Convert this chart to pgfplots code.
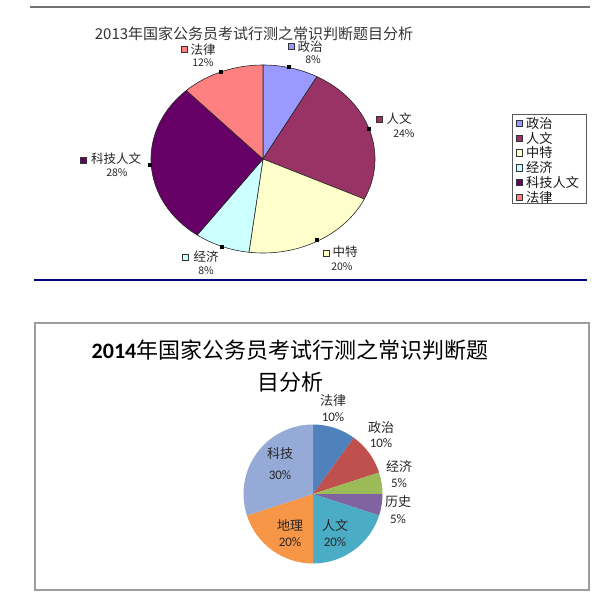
\documentclass[border=0pt]{standalone}
\usepackage{pgfplots}
\pgfplotsset{compat=1.18}
\usepackage{pgfplotstable}
\usepackage{fontspec}
\setmainfont{Noto Sans CJK SC}
\newfontfamily\calib{Carlito}

\definecolor{a1}{HTML}{9999FF}
\definecolor{a2}{HTML}{993366}
\definecolor{a3}{HTML}{FFFFCC}
\definecolor{a4}{HTML}{CCFFFF}
\definecolor{a5}{HTML}{660066}
\definecolor{a6}{HTML}{FF8080}
\definecolor{b1}{HTML}{4F81BD}
\definecolor{b2}{HTML}{C0504D}
\definecolor{b3}{HTML}{9BBB59}
\definecolor{b4}{HTML}{8064A2}
\definecolor{b5}{HTML}{4BACC6}
\definecolor{b6}{HTML}{F79646}
\definecolor{b7}{HTML}{95AAD6}
\definecolor{navyline}{HTML}{000080}

% 2013 shares (clockwise from 12 o'clock)
\pgfplotstableread{
cat value
政治 8
人文 24
中特 20
经济 8
科技人文 28
法律 12
}\pieA

% 2014 shares (clockwise from 12 o'clock)
\pgfplotstableread{
cat value
法律 10
政治 10
经济 5
历史 5
人文 20
地理 20
科技 30
}\pieB

\gdef\cum{0}
\newcommand\pieslice[7]{%
  \pgfplotstablegetelem{#2}{value}\of{#1}%
  \let\pv\pgfplotsretval
  \pgfmathsetmacro\sa{90-3.6*\cum}%
  \pgfmathsetmacro\ea{90-3.6*(\cum+\pv)}%
  \pgfmathsetmacro\nc{\cum+\pv}\xdef\cum{\nc}%
  \edef\tmp{\noexpand\path[#7] (axis cs:#3,#4) -- ([shift={(\sa:#5pt and #6pt)}]axis cs:#3,#4) arc[start angle=\sa, end angle=\ea, x radius=#5pt, y radius=#6pt] -- cycle;}%
  \tmp}

\begin{document}
\begin{tikzpicture}
\begin{axis}[
  width=600pt, height=596pt, scale only axis,
  xmin=0, xmax=600, ymin=0, ymax=596, y dir=reverse,
  hide axis, clip=false,
]
\path (axis cs:0,0) rectangle (axis cs:600,596);

% frame lines
\draw[black!55, line width=1.5pt] (axis cs:30,7) -- (axis cs:590,7);
\draw[navyline, line width=1.2pt] (axis cs:34,280) -- (axis cs:587,280);
\draw[black!38, line width=1.2pt] (axis cs:35,323) rectangle (axis cs:589,590);

% ---------- 2013 pie ----------
\node[text=black!80, inner sep=0pt, font=\fontsize{15}{18}\selectfont] at (axis cs:254,34) {2013年国家公务员考试行测之常识判断题目分析};
\gdef\cum{0}
\pieslice{\pieA}{0}{263}{159}{112}{94}{fill=a1,draw=black!85,line width=0.6pt}
\pieslice{\pieA}{1}{263}{159}{112}{94}{fill=a2,draw=black!85,line width=0.6pt}
\pieslice{\pieA}{2}{263}{159}{112}{94}{fill=a3,draw=black!85,line width=0.6pt}
\pieslice{\pieA}{3}{263}{159}{112}{94}{fill=a4,draw=black!85,line width=0.6pt}
\pieslice{\pieA}{4}{263}{159}{112}{94}{fill=a5,draw=black!85,line width=0.6pt}
\pieslice{\pieA}{5}{263}{159}{112}{94}{fill=a6,draw=black!85,line width=0.6pt}

% leader stubs
\addplot[only marks, mark=square*, mark size=1.6pt, black] coordinates {(289,67) (369,129) (317,240) (222,247) (150,165) (221,72)};

% label keys
\addplot[only marks, mark=square*, mark size=3pt, mark options={fill=a1,draw=black!80}] coordinates {(291,46)};
\addplot[only marks, mark=square*, mark size=3pt, mark options={fill=a2,draw=black!80}] coordinates {(379,119)};
\addplot[only marks, mark=square*, mark size=3pt, mark options={fill=a3,draw=black!80}] coordinates {(326,253)};
\addplot[only marks, mark=square*, mark size=3pt, mark options={fill=a4,draw=black!80}] coordinates {(185,257)};
\addplot[only marks, mark=square*, mark size=3pt, mark options={fill=a5,draw=black!80}] coordinates {(83,160)};
\addplot[only marks, mark=square*, mark size=3pt, mark options={fill=a6,draw=black!80}] coordinates {(184,49)};

\begin{scope}[every node/.style={text=black!85, inner sep=0pt}]
\node[font=\fontsize{12.5}{14}\selectfont] at (axis cs:310,47) {政治};
\node[font=\fontsize{10.5}{12}\selectfont] at (axis cs:313,60) {8\%};
\node[font=\fontsize{12.5}{14}\selectfont] at (axis cs:399,119) {人文};
\node[font=\fontsize{10.5}{12}\selectfont] at (axis cs:404,134) {24\%};
\node[font=\fontsize{12.5}{14}\selectfont] at (axis cs:345,252) {中特};
\node[font=\fontsize{10.5}{12}\selectfont] at (axis cs:342,267) {20\%};
\node[font=\fontsize{12.5}{14}\selectfont] at (axis cs:206,257) {经济};
\node[font=\fontsize{10.5}{12}\selectfont] at (axis cs:206,271) {8\%};
\node[font=\fontsize{12.5}{14}\selectfont] at (axis cs:116,159) {科技人文};
\node[font=\fontsize{10.5}{12}\selectfont] at (axis cs:117,173) {28\%};
\node[font=\fontsize{12.5}{14}\selectfont] at (axis cs:203,50) {法律};
\node[font=\fontsize{10.5}{12}\selectfont] at (axis cs:203,63) {12\%};
\end{scope}

% legend (manual)
\draw[black!65, line width=0.8pt, fill=white] (axis cs:512,114) rectangle (axis cs:586,203);
\addplot[only marks, mark=square*, mark size=3.2pt, mark options={fill=a1,draw=black!80}] coordinates {(519,123.5)};
\addplot[only marks, mark=square*, mark size=3.2pt, mark options={fill=a2,draw=black!80}] coordinates {(519,138.2)};
\addplot[only marks, mark=square*, mark size=3.2pt, mark options={fill=a3,draw=black!80}] coordinates {(519,152.9)};
\addplot[only marks, mark=square*, mark size=3.2pt, mark options={fill=a4,draw=black!80}] coordinates {(519,167.6)};
\addplot[only marks, mark=square*, mark size=3.2pt, mark options={fill=a5,draw=black!80}] coordinates {(519,182.3)};
\addplot[only marks, mark=square*, mark size=3.2pt, mark options={fill=a6,draw=black!80}] coordinates {(519,197.0)};
\begin{scope}[every node/.style={text=black!90, inner sep=0pt, anchor=west, font=\fontsize{13.2}{15}\selectfont}]
\node at (axis cs:526,123.5) {政治};
\node at (axis cs:526,138.2) {人文};
\node at (axis cs:526,152.9) {中特};
\node at (axis cs:526,167.6) {经济};
\node at (axis cs:526,182.3) {科技人文};
\node at (axis cs:526,197.0) {法律};
\end{scope}

% ---------- 2014 pie ----------
\node[align=center, inner sep=0pt, font=\fontsize{22}{32}\selectfont] at (axis cs:290,366) {{\calib\bfseries 2014}年国家公务员考试行测之常识判断题\\目分析};
\gdef\cum{0}
\pieslice{\pieB}{0}{313}{494}{69.5}{69.5}{fill=b1}
\pieslice{\pieB}{1}{313}{494}{69.5}{69.5}{fill=b2}
\pieslice{\pieB}{2}{313}{494}{69.5}{69.5}{fill=b3}
\pieslice{\pieB}{3}{313}{494}{69.5}{69.5}{fill=b4}
\pieslice{\pieB}{4}{313}{494}{69.5}{69.5}{fill=b5}
\pieslice{\pieB}{5}{313}{494}{69.5}{69.5}{fill=b6}
\pieslice{\pieB}{6}{313}{494}{69.5}{69.5}{fill=b7}

\begin{scope}[every node/.style={text=black!85, inner sep=0pt}]
\node[font=\fontsize{13}{15}\selectfont] at (axis cs:333,401) {法律};
\node[font=\fontsize{13}{15}\selectfont\calib] at (axis cs:333,417) {10\%};
\node[font=\fontsize{13}{15}\selectfont] at (axis cs:381,428) {政治};
\node[font=\fontsize{13}{15}\selectfont\calib] at (axis cs:381,443) {10\%};
\node[font=\fontsize{13}{15}\selectfont] at (axis cs:399,466) {经济};
\node[font=\fontsize{13}{15}\selectfont\calib] at (axis cs:399,483) {5\%};
\node[font=\fontsize{13}{15}\selectfont] at (axis cs:398,502) {历史};
\node[font=\fontsize{13}{15}\selectfont\calib] at (axis cs:398,519) {5\%};
\node[font=\fontsize{13}{15}\selectfont] at (axis cs:280,454) {科技};
\node[font=\fontsize{13}{15}\selectfont\calib] at (axis cs:280,475) {30\%};
\node[font=\fontsize{13}{15}\selectfont] at (axis cs:290,525) {地理};
\node[font=\fontsize{13}{15}\selectfont\calib] at (axis cs:290,542) {20\%};
\node[font=\fontsize{13}{15}\selectfont] at (axis cs:335,525) {人文};
\node[font=\fontsize{13}{15}\selectfont\calib] at (axis cs:335,542) {20\%};
\end{scope}
\end{axis}
\end{tikzpicture}
\end{document}
